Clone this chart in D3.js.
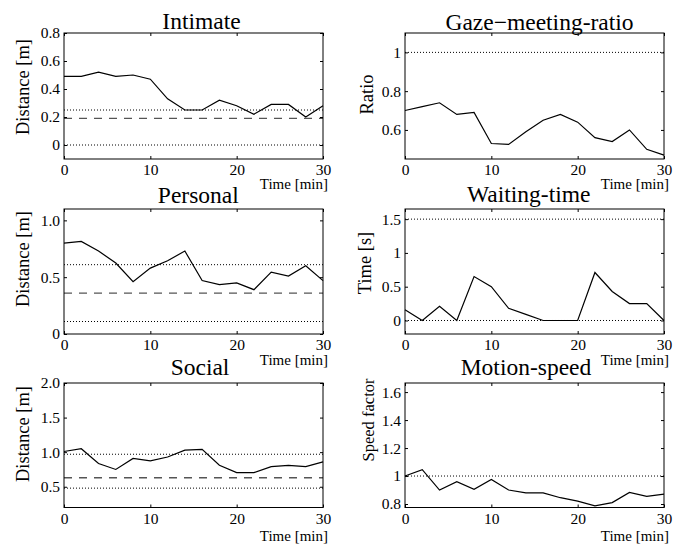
<!DOCTYPE html>
<html>
<head>
<meta charset="utf-8">
<script src="https://cdn.jsdelivr.net/npm/d3@7"></script>
<style>
  body { margin: 0; background: #fff; }
  svg { display: block; }
  svg text { font-family: "Liberation Serif", "Times New Roman", "DejaVu Serif", serif; fill: #000; }
  .axis path, .axis line { stroke: #000; }
</style>
</head>
<body>
<svg id="chart"></svg>
<script>
// sample times, minutes
var times = [0, 2, 4, 6, 8, 10, 12, 14, 16, 18, 20, 22, 24, 26, 28, 30];
var xTicks = [0, 10, 20, 30];

// series
var intimate = [0.49, 0.49, 0.52, 0.49, 0.50, 0.47, 0.33, 0.25, 0.25, 0.32, 0.28, 0.22, 0.29, 0.29, 0.20, 0.28];
var gaze     = [0.70, 0.72, 0.74, 0.68, 0.69, 0.53, 0.525, 0.59, 0.65, 0.68, 0.64, 0.56, 0.54, 0.60, 0.50, 0.47];
var personal = [0.80, 0.815, 0.73, 0.625, 0.46, 0.58, 0.645, 0.73, 0.47, 0.435, 0.45, 0.39, 0.545, 0.51, 0.60, 0.47];
var waiting  = [0.16, 0, 0.21, 0, 0.65, 0.50, 0.18, 0.09, 0, 0, 0, 0.71, 0.43, 0.25, 0.25, 0];
var social   = [1.01, 1.05, 0.835, 0.75, 0.91, 0.875, 0.93, 1.03, 1.04, 0.81, 0.705, 0.705, 0.79, 0.81, 0.79, 0.86];
var motion   = [1.0, 1.045, 0.90, 0.96, 0.905, 0.975, 0.90, 0.88, 0.88, 0.845, 0.82, 0.787, 0.81, 0.883, 0.854, 0.87];

// reference levels
var intimateDotted = [0.25, 0], intimateDashed = [0.19];
var gazeDotted = [1];
var personalDotted = [0.61, 0.11], personalDashed = [0.36];
var waitingDotted = [1.5, 0];
var socialDotted = [0.97, 0.48], socialDashed = [0.63];
var motionDotted = [1];

// y ticks
var intimateTicks = [0, 0.2, 0.4, 0.6, 0.8], intimateLabels = ["0", "0.2", "0.4", "0.6", "0.8"];
var gazeTicks = [0.6, 0.8, 1], gazeLabels = ["0.6", "0.8", "1"];
var personalTicks = [0, 0.5, 1.0], personalLabels = ["0", "0.5", "1.0"];
var waitingTicks = [0, 0.5, 1, 1.5], waitingLabels = ["0", "0.5", "1", "1.5"];
var socialTicks = [0.5, 1.0, 1.5, 2.0], socialLabels = ["0.5", "1.0", "1.5", "2.0"];
var motionTicks = [0.8, 1, 1.2, 1.4, 1.6], motionLabels = ["0.8", "1", "1.2", "1.4", "1.6"];

var titles = ["Intimate", "Gaze\u2212meeting-ratio", "Personal", "Waiting-time", "Social", "Motion-speed"];
var yTitles = ["Distance [m]", "Ratio", "Distance [m]", "Time [s]", "Distance [m]", "Speed factor"];

const W = 684, H = 547;
const serif = '"Liberation Serif", "Times New Roman", "DejaVu Serif", serif';
var svg = d3.select("#chart").attr("width", W).attr("height", H);

var cols = [[64, 323], [405, 664]];
var rows = [[33, 159], [209, 334], [383, 507.5]];

var panels = [
  { values: intimate, dom: [-0.1, 0.8], ticks: intimateTicks, labels: intimateLabels, dotted: intimateDotted, dashed: intimateDashed,
    tx: 201.5, ty: 29, lx: 23, ly: 87, lsize: 18.5, xl: 30 },
  { values: gaze, dom: [0.45, 1.1], ticks: gazeTicks, labels: gazeLabels, dotted: gazeDotted, dashed: [],
    tx: 539.5, ty: 30, lx: 367, ly: 94.5, lsize: 18.5, xl: 30 },
  { values: personal, dom: [0, 1.1], ticks: personalTicks, labels: personalLabels, dotted: personalDotted, dashed: personalDashed,
    tx: 198.3, ty: 203, lx: 23, ly: 259, lsize: 18.5, xl: 31 },
  { values: waiting, dom: [-0.2, 1.65], ticks: waitingTicks, labels: waitingLabels, dotted: waitingDotted, dashed: [],
    tx: 528.7, ty: 201.5, lx: 365, ly: 263, lsize: 18.5, xl: 31 },
  { values: social, dom: [0.2, 2.0], ticks: socialTicks, labels: socialLabels, dotted: socialDotted, dashed: socialDashed,
    tx: 200, ty: 375, lx: 23, ly: 434, lsize: 18.5, xl: 33 },
  { values: motion, dom: [0.775, 1.665], ticks: motionTicks, labels: motionLabels, dotted: motionDotted, dashed: [],
    tx: 526, ty: 375, lx: 368, ly: 420, lsize: 16.5, xl: 33 }
];

panels.forEach((p, i) => {
  let c = cols[i % 2], r = rows[Math.floor(i / 2)];
  let x = d3.scaleLinear().domain([0, 30]).range(c);
  let y = d3.scaleLinear().domain(p.dom).range([r[1], r[0]]);
  let g = svg.append("g");

  // reference lines
  p.dotted.forEach(v => {
    g.append("line").attr("x1", c[0]).attr("x2", c[1]).attr("y1", y(v)).attr("y2", y(v))
      .attr("stroke", "#000").attr("stroke-width", 1).attr("stroke-dasharray", "1,2");
  });
  p.dashed.forEach(v => {
    g.append("line").attr("x1", c[0]).attr("x2", c[1]).attr("y1", y(v)).attr("y2", y(v))
      .attr("stroke", "#555").attr("stroke-width", 1.3).attr("stroke-dasharray", "8,7");
  });

  // data
  let line = d3.line().x((d, k) => x(times[k])).y(d => y(d));
  g.append("path").datum(p.values).attr("d", line)
    .attr("fill", "none").attr("stroke", "#000").attr("stroke-width", 1.2);

  // axes, ticks inward on all four sides
  g.append("g").attr("class", "axis").attr("transform", `translate(0,${r[1]})`)
    .call(d3.axisBottom(x).tickValues(xTicks).tickSize(-3).tickPadding(5).tickFormat(d3.format("d")));
  g.append("g").attr("class", "axis").attr("transform", `translate(0,${r[0]})`)
    .call(d3.axisTop(x).tickValues(xTicks).tickSize(-3).tickFormat(""));
  g.append("g").attr("class", "axis").attr("transform", `translate(${c[0]},0)`)
    .call(d3.axisLeft(y).tickValues(p.ticks).tickSize(-3).tickPadding(4).tickFormat((d, k) => p.labels[k]));
  g.append("g").attr("class", "axis").attr("transform", `translate(${c[1]},0)`)
    .call(d3.axisRight(y).tickValues(p.ticks).tickSize(-3).tickFormat(""));
  g.selectAll(".axis .domain").remove();
  g.selectAll(".axis text").attr("font-family", serif).attr("font-size", 15.5);

  g.append("rect").attr("x", c[0]).attr("y", r[0]).attr("width", c[1] - c[0]).attr("height", r[1] - r[0])
    .attr("fill", "none").attr("stroke", "#000").attr("stroke-width", 1);

  // titles and labels
  g.append("text").attr("x", p.tx).attr("y", p.ty).attr("text-anchor", "middle")
    .attr("font-family", serif).attr("font-size", 23.5).text(titles[i]);
  g.append("text").attr("transform", `translate(${p.lx},${p.ly}) rotate(-90)`)
    .attr("text-anchor", "middle").attr("dy", "0.35em")
    .attr("font-family", serif).attr("font-size", p.lsize).text(yTitles[i]);
  g.append("text").attr("x", c[1] + 5).attr("y", r[1] + p.xl).attr("text-anchor", "end")
    .attr("font-family", serif).attr("font-size", 15).text("Time [min]");
});
</script>
</body>
</html>
